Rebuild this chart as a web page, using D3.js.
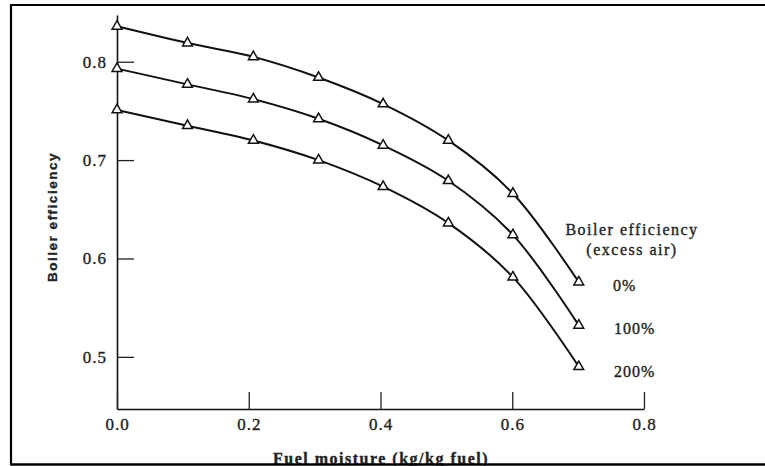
<!DOCTYPE html>
<html>
<head>
<meta charset="utf-8">
<script src="https://cdn.jsdelivr.net/npm/d3@7"></script>
<style>
  body { margin: 0; background: #fff; }
  svg { display: block; }
  text { stroke: #222; stroke-width: 0.35px; }
</style>
</head>
<body>
<div class="chart"></div>
<script>
// values
const moisture = [0, 0.107, 0.207, 0.306, 0.404, 0.503, 0.601, 0.701];
const eff0   = [0.836, 0.819, 0.805, 0.784, 0.757, 0.720, 0.666, 0.576];
const eff100 = [0.793, 0.777, 0.762, 0.742, 0.715, 0.679, 0.624, 0.532];
const eff200 = [0.751, 0.735, 0.720, 0.700, 0.673, 0.636, 0.581, 0.490];
const seriesLabels = ["0%", "100%", "200%"];
const xTicks = [0, 0.2, 0.4, 0.6, 0.8];
const yTicks = [0.5, 0.6, 0.7, 0.8];
const legendTitle = ["Boiler efficiency", "(excess air)"];

const width = 765, height = 466;
const svg = d3.select(".chart").append("svg")
  .attr("width", width)
  .attr("height", height);

const x = d3.scaleLinear().domain([0, 0.8]).range([117, 644]);
const y = d3.scaleLinear().domain([0.447, 0.8475]).range([409, 15]);

// frame
svg.append("path")
  .attr("d", "M765,5 L11,5 L11,464.5 L765,464.5")
  .attr("fill", "none")
  .attr("stroke", "#000")
  .attr("stroke-width", 2.2);

const serif = "'Liberation Serif', 'Times New Roman', serif";

// axes
const yAxis = svg.append("g")
  .attr("transform", `translate(${x(0)},0)`)
  .call(d3.axisLeft(y).tickValues(yTicks).tickSize(-17).tickSizeOuter(0)
          .tickPadding(10).tickFormat(d3.format(".1f")));
const xAxis = svg.append("g")
  .attr("transform", `translate(0,${y.range()[0]})`)
  .call(d3.axisBottom(x).tickValues(xTicks).tickSize(-17).tickSizeOuter(0)
          .tickPadding(9).tickFormat(d3.format(".1f")));

[xAxis, yAxis].forEach(g => {
  g.select(".domain").attr("stroke", "#111").attr("stroke-width", 1.6);
  g.selectAll(".tick line").attr("stroke", "#222").attr("stroke-width", 1.3);
  g.selectAll(".tick text")
    .attr("fill", "#222")
    .style("font-family", serif)
    .style("font-size", "17px")
    .style("letter-spacing", "1px");
});

// curves
const series = [eff0, eff100, eff200];
const line = d3.line()
  .x((d, i) => x(moisture[i]))
  .y(d => y(d))
  .curve(d3.curveCatmullRom.alpha(0.5));

svg.selectAll(".curve").data(series).enter()
  .append("path")
  .attr("class", "curve")
  .attr("d", line)
  .attr("fill", "none")
  .attr("stroke", "#111")
  .attr("stroke-width", 2);

// triangle markers
const tri = d3.symbol().type(d3.symbolTriangle).size(42);
series.forEach(s => {
  svg.append("g").selectAll("path").data(s).enter()
    .append("path")
    .attr("d", tri)
    .attr("transform", (d, i) => `translate(${x(moisture[i])},${y(d)})`)
    .attr("fill", "#fff")
    .attr("stroke", "#111")
    .attr("stroke-width", 1.5);
});

// legend text
svg.selectAll(".ltitle").data(legendTitle).enter()
  .append("text")
  .attr("x", 632)
  .attr("y", (d, i) => 235 + i * 20)
  .attr("text-anchor", "middle")
  .style("font-family", serif)
  .style("font-size", "16px")
  .style("letter-spacing", "1.5px")
  .attr("fill", "#222")
  .text(d => d);

svg.selectAll(".lab").data(seriesLabels).enter()
  .append("text")
  .attr("x", (d, i) => i === 0 ? 613 : 614)
  .attr("y", (d, i) => 291 + i * 43)
  .style("font-family", serif)
  .style("font-size", "16px")
  .style("letter-spacing", "1px")
  .attr("fill", "#222")
  .text(d => d);

// axis titles
svg.append("text")
  .attr("transform", "translate(57,217) rotate(-90)")
  .attr("text-anchor", "middle")
  .style("font-family", "'Liberation Sans', Arial, sans-serif")
  .style("font-weight", "bold")
  .style("font-size", "13.5px")
  .style("letter-spacing", "1.5px")
  .attr("fill", "#222")
  .text("Boiler efficiency");

svg.append("text")
  .attr("x", 381)
  .attr("y", 464)
  .attr("text-anchor", "middle")
  .style("font-family", serif)
  .style("font-weight", "bold")
  .style("font-size", "16px")
  .style("letter-spacing", "1.5px")
  .attr("fill", "#222")
  .text("Fuel moisture (kg/kg fuel)");

// redraw bottom border over the title like in the scan
svg.append("line")
  .attr("x1", 11).attr("x2", 765)
  .attr("y1", 464.5).attr("y2", 464.5)
  .attr("stroke", "#000").attr("stroke-width", 2.2);
</script>
</body>
</html>
